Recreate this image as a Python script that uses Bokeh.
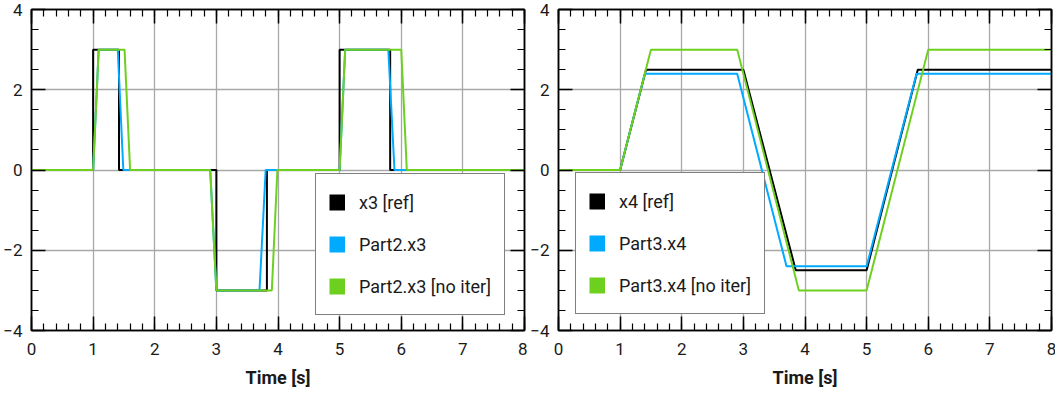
from bokeh.plotting import figure
from bokeh.layouts import row
from bokeh.models import (Range1d, LinearAxis, SingleIntervalTicker, Legend,
                          LegendItem)
from bokeh.embed import file_html
from bokeh.resources import INLINE

# ---- x3: reference vs. Part2 outputs ----
t_x3_ref = [0, 1.0, 1.0, 1.42, 1.42, 3.0, 3.0, 3.82, 3.82, 5.0, 5.0, 5.82, 5.82, 8]
x3_ref = [0, 0, 3, 3, 0, 0, -3, -3, 0, 0, 3, 3, 0, 0]

t_part2 = [0, 1.0, 1.09, 1.40, 1.49, 2.90, 3.0, 3.70, 3.80, 5.0, 5.09, 5.79, 5.89, 8]
part2_x3 = [0, 0, 3, 3, 0, 0, -3, -3, 0, 0, 3, 3, 0, 0]

t_part2_noiter = [0, 1.0, 1.09, 1.51, 1.60, 2.90, 3.0, 3.90, 3.99, 5.0, 5.09, 6.0, 6.09, 8]
part2_x3_noiter = [0, 0, 3, 3, 0, 0, -3, -3, 0, 0, 3, 3, 0, 0]

# ---- x4: reference vs. Part3 outputs ----
t_x4_ref = [0, 1.0, 1.42, 3.0, 3.85, 5.0, 5.83, 8]
x4_ref = [0, 0, 2.5, 2.5, -2.5, -2.5, 2.5, 2.5]

t_part3 = [0, 1.0, 1.40, 2.90, 3.70, 5.0, 5.81, 8]
part3_x4 = [0, 0, 2.4, 2.4, -2.4, -2.4, 2.4, 2.4]

t_part3_noiter = [0, 1.0, 1.50, 2.90, 3.90, 5.0, 6.0, 8]
part3_x4_noiter = [0, 0, 3, 3, -3, -3, 3, 3]

left_labels = ["x3 [ref]", "Part2.x3", "Part2.x3 [no iter]"]
right_labels = ["x4 [ref]", "Part3.x4", "Part3.x4 [no iter]"]

COLORS = ["#000000", "#00AAFF", "#6ED01E"]
FONT = "Roboto"
TEXT = "#1a1a1a"
NAN = float("nan")


def style_axis(ax, show_labels):
    ax.axis_line_color = "black"
    ax.axis_line_width = 1.5
    ax.major_tick_in = 14
    ax.major_tick_out = 0
    ax.minor_tick_in = 7
    ax.minor_tick_out = 0
    ax.major_tick_line_color = "black"
    ax.major_tick_line_width = 1.5
    ax.minor_tick_line_color = "black"
    ax.minor_tick_line_width = 1.2
    if show_labels:
        ax.major_label_text_font = FONT
        ax.major_label_text_font_size = "17px"
        ax.major_label_text_color = TEXT
    else:
        # tick marks only on the mirrored axes
        ax.major_label_text_color = None
        ax.major_label_text_font_size = "1px"
        ax.major_label_standoff = 0


def make_panel(series, labels, border_left, border_right, legend_xy):
    p = figure(frame_width=493, frame_height=321,
               x_range=Range1d(0, 8), y_range=Range1d(-4, 4),
               output_backend="svg", toolbar_location=None,
               min_border_left=border_left, min_border_right=border_right,
               min_border_top=9, min_border_bottom=71)
    p.background_fill_color = "white"
    p.border_fill_color = "white"
    p.outline_line_color = "black"
    p.outline_line_width = 1.5

    xt = SingleIntervalTicker(interval=1, num_minor_ticks=5)
    yt = SingleIntervalTicker(interval=2, num_minor_ticks=4)

    xb = p.xaxis[0]
    xb.ticker = xt
    style_axis(xb, True)
    xb.major_label_standoff = 12
    xb.axis_label = "Time [s]"
    xb.axis_label_text_font = FONT
    xb.axis_label_text_font_size = "18px"
    xb.axis_label_text_font_style = "bold"
    xb.axis_label_text_color = TEXT
    xb.axis_label_standoff = 9

    yl = p.yaxis[0]
    yl.ticker = yt
    style_axis(yl, True)
    yl.major_label_standoff = 9

    xa = LinearAxis(ticker=xt)
    style_axis(xa, False)
    p.add_layout(xa, "above")
    yr = LinearAxis(ticker=yt)
    style_axis(yr, False)
    p.add_layout(yr, "right")

    p.xgrid.ticker = xt
    p.ygrid.ticker = yt
    for g in (p.xgrid, p.ygrid):
        g.grid_line_color = "#a8a8a8"
        g.grid_line_width = 1.3

    for (t, v), c in zip(series, COLORS):
        p.line(t, v, line_color=c, line_width=2)

    # square swatches for the legend (thick line proxies with no visible data)
    items = []
    for lab, c in zip(labels, COLORS):
        sw = p.line(x=[NAN], y=[NAN], line_color=c, line_width=16)
        items.append(LegendItem(label=lab, renderers=[sw]))
    legend = Legend(items=items, location=legend_xy, orientation="vertical",
                    border_line_color="black", border_line_width=1,
                    background_fill_color="white", background_fill_alpha=1,
                    label_text_font=FONT, label_text_font_size="18px",
                    label_text_color=TEXT,
                    glyph_width=16, glyph_height=30, label_height=30,
                    label_standoff=14, spacing=12, padding=13, margin=0)
    p.add_layout(legend, "center")
    return p


p1 = make_panel([(t_x3_ref, x3_ref), (t_part2, part2_x3),
                 (t_part2_noiter, part2_x3_noiter)],
                left_labels, 31, 3, (284, 15))
p2 = make_panel([(t_x4_ref, x4_ref), (t_part3, part3_x4),
                 (t_part3_noiter, part3_x4_noiter)],
                right_labels, 30, 5, (17, 16))

layout = row(p1, p2, spacing=0)
open("out.html", "w").write(file_html(layout, INLINE))
